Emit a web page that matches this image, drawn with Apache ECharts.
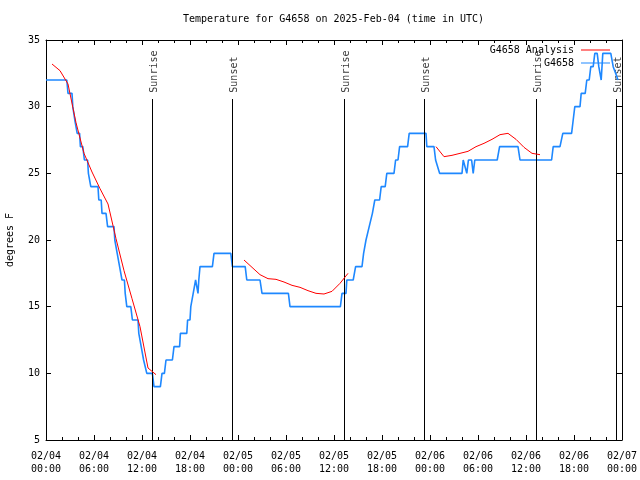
<!DOCTYPE html>
<html><head><meta charset="utf-8">
<script src="https://cdn.jsdelivr.net/npm/echarts@6/dist/echarts.min.js"></script>
<style>html,body{margin:0;padding:0;background:#fff}#c{width:640px;height:480px}</style>
</head><body><div id="c"></div>
<script>
// hours since 02/04 00:00 UTC
var obsTimes = [0,2.6,2.75,3.25,3.35,3.5,3.6,3.8,3.9,4.2,4.3,4.6,4.8,5.2,5.3,5.5,5.6,6.5,6.6,6.9,7.0,7.5,7.7,8.5,8.6,8.8,8.9,9.1,9.2,9.4,9.5,9.8,9.9,10.0,10.1,10.6,10.8,11.5,11.6,11.8,11.9,12.1,12.2,12.4,12.6,13.3,13.5,14.3,14.5,14.8,15.0,15.8,16.0,16.7,16.8,17.6,17.7,18.0,18.1,18.3,18.4,18.6,18.7,18.8,19.0,19.1,19.25,20.8,21.0,23.1,23.3,24.9,25.1,26.75,27.0,30.3,30.5,36.8,37.0,37.5,37.6,38.4,38.7,39.5,39.7,39.9,40.0,40.2,40.4,40.6,40.8,41.0,41.1,41.7,41.9,42.4,42.6,43.5,43.7,44.0,44.2,45.2,45.4,47.5,47.6,48.5,48.7,48.9,49.2,52.0,52.15,52.4,52.6,52.8,53.2,53.4,53.6,56.4,56.7,59.0,59.25,63.2,63.4,64.25,64.6,65.7,65.9,66.1,66.75,66.9,67.4,67.6,67.9,68.1,68.4,68.6,68.9,69.1,69.4,69.6,70.6,70.9,71.2,71.5];
var obsTemps = [32,32,31,31,30,30,29,29,28,28,27,27,26,26,25,25,24,24,23,23,22,22,21,21,20,20,19,19,18,18,17,17,16,16,15,15,14,14,13,13,12,12,11,11,10,10,9,9,10,10,11,11,12,12,13,13,14,14,15,15,16,16,17,17,16,17,18,18,19,19,18,18,17,17,16,16,15,15,16,16,17,17,18,18,19,19,20,20,21,21,22,22,23,23,24,24,25,25,26,26,27,27,28,28,27,27,26,26,25,25,26,26,25,26,26,25,26,26,27,27,26,26,27,27,28,28,29,30,30,31,31,32,32,33,33,34,34,33,32,34,34,33,32.5,32];

var anaSeg1Times = [0.75,1.75,2.75,3.75,4.75,5.75,6.75,7.75,8.75,9.75,10.75,11.75,12.75,13.75];
var anaSeg1Temps = [33.2,32.7,31.7,28.8,26.5,25.1,23.85,22.7,20.1,17.7,15.6,13.5,10.4,9.9];
var anaSeg2Times = [24.75,25.75,26.75,27.75,28.75,29.75,30.75,31.75,32.75,33.75,34.75,35.75,36.75,37.75];
var anaSeg2Temps = [18.5,17.95,17.4,17.1,17.05,16.85,16.6,16.45,16.2,16.0,15.95,16.15,16.75,17.5];
var anaSeg3Times = [48.75,49.75,50.75,51.75,52.75,53.75,54.75,55.75,56.75,57.75,58.75,59.75,60.75,61.75];
var anaSeg3Temps = [27.0,26.25,26.35,26.5,26.65,27.0,27.25,27.55,27.9,28.0,27.55,26.95,26.5,26.4];

var sunriseTimes = [13.3, 37.3, 61.3];
var sunsetTimes = [23.3, 47.3, 71.3];

var tickDates = ['02/04','02/04','02/04','02/04','02/05','02/05','02/05','02/05','02/06','02/06','02/06','02/06','02/07'];
var tickTimes = ['00:00','06:00','12:00','18:00','00:00','06:00','12:00','18:00','00:00','06:00','12:00','18:00','00:00'];

var FONT = 'DejaVu Sans Mono';
function zip(t, v){ return t.map(function(x,i){ return [x, v[i]]; }); }
var anaData = zip(anaSeg1Times, anaSeg1Temps).concat([[14.5,'-']])
  .concat(zip(anaSeg2Times, anaSeg2Temps)).concat([[38.5,'-']])
  .concat(zip(anaSeg3Times, anaSeg3Temps));
var obsData = zip(obsTimes, obsTemps);

var LINE_TOP = 30.575, LABEL_BASE = 31.05;
var eventLabels = [], eventLines = [];
sunriseTimes.forEach(function(t){ eventLabels.push({value:[t, LABEL_BASE], name:'Sunrise'}); eventLines.push([{coord:[t, LINE_TOP]},{coord:[t, 5]}]); });
sunsetTimes.forEach(function(t){ eventLabels.push({value:[t, LABEL_BASE], name:'Sunset'}); eventLines.push([{coord:[t, LINE_TOP]},{coord:[t, 5]}]); });

var chart = echarts.init(document.getElementById('c'), null, {renderer:'canvas'});
var axisCommon = {
  type:'value', min:0, max:72, interval:6,
  axisLine:{show:true, onZero:false, lineStyle:{color:'#000', width:1}},
  axisTick:{show:true, inside:true, length:5, lineStyle:{color:'#000'}},
  minorTick:{show:true, splitNumber:3, length:3, lineStyle:{color:'#000'}},
  splitLine:{show:false}, minorSplitLine:{show:false}
};
chart.setOption({
  animation:false,
  backgroundColor:'#fff',
  textStyle:{fontFamily:FONT},
  title:{text:'Temperature for G4658 on 2025-Feb-04 (time in UTC)', left:183, top:14, padding:0,
    textStyle:{fontFamily:FONT, fontSize:10, fontWeight:'normal', color:'#000'}},
  grid:{left:46, right:18, top:40, bottom:40, containLabel:false, outerBoundsMode:'none'},
  legend:[
    {data:['G4658 Analysis'], right:30, top:45, padding:0, align:'right', orient:'vertical',
      itemWidth:29, itemHeight:1, icon:'rect', textStyle:{fontFamily:FONT, fontSize:10, color:'#000', padding:[0,2,0,0]}},
    {data:['G4658'], right:30, top:58, padding:0, align:'right', orient:'vertical',
      itemWidth:29, itemHeight:1, icon:'rect', textStyle:{fontFamily:FONT, fontSize:10, color:'#000', padding:[0,2,0,0]}}
  ],
  xAxis:[
    Object.assign({}, axisCommon, {position:'bottom',
      axisLabel:{show:true, margin:10, fontFamily:FONT, fontSize:10, color:'#000', lineHeight:13,
        showMinLabel:true, showMaxLabel:true,
        formatter:function(v){ var i=Math.round(v/6); return tickDates[i]+'\n'+tickTimes[i]; }}}),
    Object.assign({}, axisCommon, {position:'top', axisLabel:{show:false}})
  ],
  yAxis:[
    {type:'value', min:5, max:35, interval:5, position:'left',
      name:'degrees F', nameLocation:'middle', nameGap:31, nameRotate:90,
      nameTextStyle:{fontFamily:FONT, fontSize:10, color:'#000'},
      axisLine:{show:true, onZero:false, lineStyle:{color:'#000'}},
      axisTick:{show:true, inside:true, length:5, lineStyle:{color:'#000'}},
      axisLabel:{margin:6, fontFamily:FONT, fontSize:10, color:'#000'},
      splitLine:{show:false}},
    {type:'value', min:5, max:35, interval:5, position:'right',
      axisLine:{show:true, onZero:false, lineStyle:{color:'#000'}},
      axisTick:{show:true, inside:true, length:5, lineStyle:{color:'#000'}},
      axisLabel:{show:false}, splitLine:{show:false}}
  ],
  series:[
    {name:'events', type:'scatter', symbolSize:0, data:eventLabels, silent:true, z:3,
      label:{show:true, position:'inside', rotate:90, align:'left', verticalAlign:'middle',
        offset:[0,2],
        formatter:function(p){ return p.name; }, fontFamily:FONT, fontSize:10, color:'#000'},
      markLine:{silent:true, symbol:['none','none'], label:{show:false},
        lineStyle:{color:'#000', width:1, type:'solid'}, data:eventLines}},
    {name:'G4658', type:'line', data:obsData, showSymbol:false, symbol:'none', color:'#1e88ff',
      lineStyle:{color:'#1e88ff', width:1.6}, z:4},
    {name:'G4658 Analysis', type:'line', data:anaData, showSymbol:false, symbol:'none', color:'#ff0000',
      connectNulls:false, lineStyle:{color:'#ff0000', width:1}, z:5}
  ]
});
</script>
</body></html>
